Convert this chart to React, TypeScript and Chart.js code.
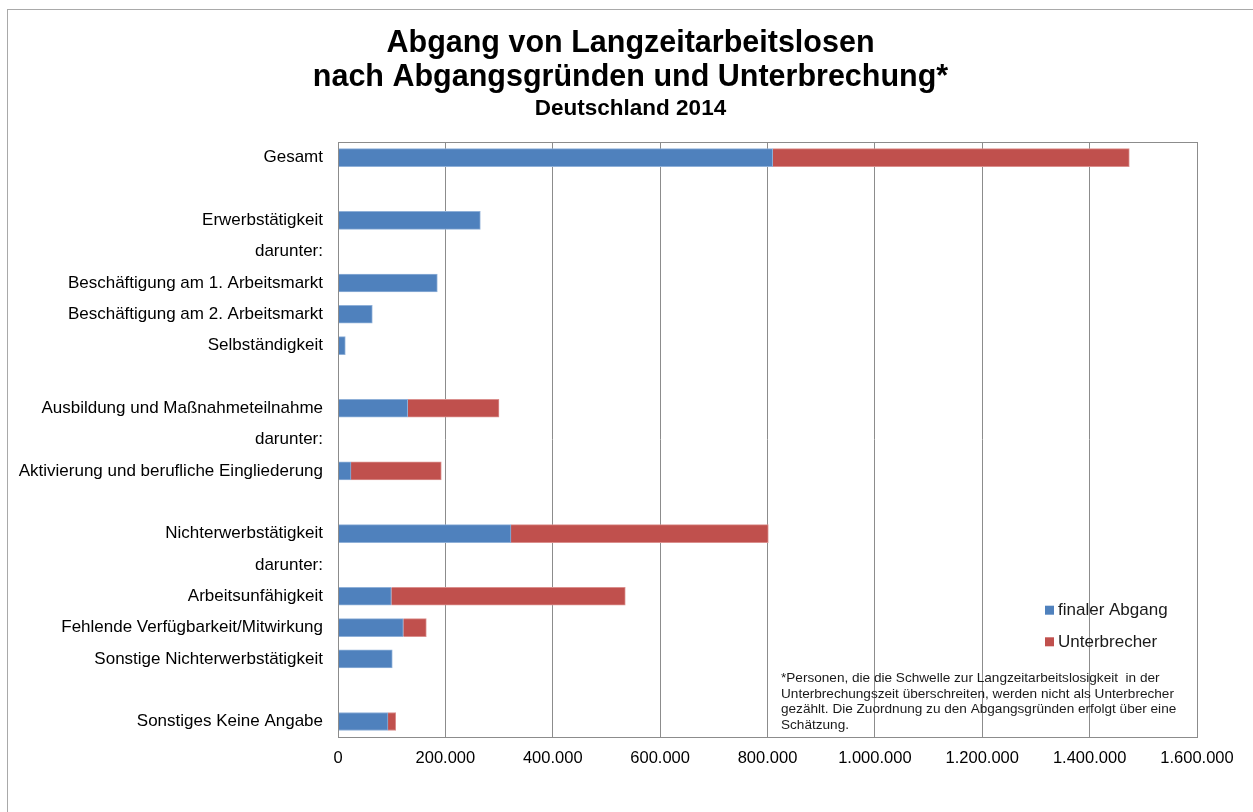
import React, { useEffect, useRef } from "react";
import { Chart, registerables } from "chart.js";

Chart.register(...registerables);

const categories = [
  "Gesamt",
  "",
  "Erwerbstätigkeit",
  "darunter:",
  "Beschäftigung am 1. Arbeitsmarkt",
  "Beschäftigung am 2. Arbeitsmarkt",
  "Selbständigkeit",
  "",
  "Ausbildung und Maßnahmeteilnahme",
  "darunter:",
  "Aktivierung und berufliche Eingliederung",
  "",
  "Nichterwerbstätigkeit",
  "darunter:",
  "Arbeitsunfähigkeit",
  "Fehlende Verfügbarkeit/Mitwirkung",
  "Sonstige Nichterwerbstätigkeit",
  "",
  "Sonstiges Keine Angabe",
];

const finalerAbgang = [
  809700, null, 265100, null, 185000, 63900, 13600, null, 129800, null, 24200,
  null, 322200, null, 99300, 121600, 101100, null, 93100,
];

const unterbrecher = [
  664200, null, null, null, null, null, null, null, 170100, null, 168200,
  null, 479300, null, 435800, 42900, null, null, 14400,
];

const seriesNames = ["finaler Abgang", "Unterbrecher"];
const seriesColors = ["#4F81BD", "#C0504D"];
const seriesBorders = ["#8FB0D8", "#DA8F8D"];

const titleLines = ["Abgang von Langzeitarbeitslosen", "nach Abgangsgründen und Unterbrechung*"];
const subtitleText = "Deutschland 2014";

const footnoteLines = [
  "*Personen, die die Schwelle zur Langzeitarbeitslosigkeit  in der",
  "Unterbrechungszeit überschreiten, werden nicht als Unterbrecher",
  "gezählt. Die Zuordnung zu den Abgangsgründen erfolgt über eine",
  "Schätzung.",
];

const FONT = "'Liberation Sans', Arial, sans-serif";

const fmt = (v: number) => String(v).replace(/\B(?=(\d{3})+(?!\d))/g, ".");

const extrasPlugin = {
  id: "extras",
  afterLayout(chart: any) {
    // center the title blocks over the whole chart frame, not only left of the padding
    (chart.boxes || []).forEach((box: any) => {
      if (box && box.fullSize && box.options && "text" in box.options) {
        box.left = 64;
        box.right = chart.chartArea.right;
      }
    });
  },
  afterDraw(chart: any) {
    const { ctx, chartArea } = chart;
    ctx.save();
    // plot border
    ctx.strokeStyle = "#8c8c8c";
    ctx.lineWidth = 1;
    ctx.strokeRect(
      Math.round(chartArea.left) + 0.5,
      Math.round(chartArea.top) + 0.5,
      Math.round(chartArea.right - chartArea.left),
      Math.round(chartArea.bottom - chartArea.top)
    );
    // legend
    const lx = chartArea.right - 152;
    const ly = chartArea.bottom - 127;
    ctx.font = `17px ${FONT}`;
    ctx.textBaseline = "middle";
    ctx.textAlign = "left";
    seriesNames.forEach((name, i) => {
      const y = ly + i * 31.6;
      ctx.fillStyle = seriesColors[i];
      ctx.fillRect(lx, y - 4.5, 9, 9);
      ctx.fillStyle = "#1a1a1a";
      ctx.fillText(name, lx + 13, y + 0.5);
    });
    // footnote
    ctx.font = `13.6px ${FONT}`;
    ctx.fillStyle = "#1a1a1a";
    const fx = chartArea.left + 443;
    const fy = chartArea.bottom - 59;
    footnoteLines.forEach((line, i) => {
      ctx.fillText(line, fx, fy + i * 15.6);
    });
    ctx.restore();
  },
};

export default function App() {
  const canvasRef = useRef<HTMLCanvasElement | null>(null);

  useEffect(() => {
    document.body.style.margin = "0";
    document.body.style.overflow = "hidden";
    const canvas = canvasRef.current;
    if (!canvas) return;
    const chart = new Chart(canvas, {
      type: "bar",
      data: {
        labels: categories,
        datasets: [
          {
            label: seriesNames[0],
            data: finalerAbgang,
            backgroundColor: seriesColors[0],
            borderColor: seriesBorders[0],
            borderWidth: 1,
            barThickness: 18,
          },
          {
            label: seriesNames[1],
            data: unterbrecher,
            backgroundColor: seriesColors[1],
            borderColor: seriesBorders[1],
            borderWidth: 1,
            barThickness: 18,
          },
        ],
      },
      options: {
        indexAxis: "y",
        animation: false,
        responsive: false,
        maintainAspectRatio: false,
        layout: { padding: { left: 0, right: 56, top: 0, bottom: 33 } },
        plugins: {
          legend: { display: false },
          tooltip: { enabled: false },
          title: {
            display: true,
            text: titleLines,
            color: "#000",
            font: { family: FONT, size: 30.5, weight: "bold", lineHeight: 34 / 30.5 },
            padding: { top: 27, bottom: 0 },
          },
          subtitle: {
            display: true,
            text: subtitleText,
            color: "#000",
            font: { family: FONT, size: 22.5, weight: "bold", lineHeight: 1.2 },
            padding: { top: 0, bottom: 20 },
          },
        },
        scales: {
          x: {
            stacked: true,
            min: 0,
            max: 1600000,
            ticks: {
              stepSize: 200000,
              color: "#000",
              font: { family: FONT, size: 16.5 },
              padding: 11,
              maxRotation: 0,
              callback: (v: any) => fmt(Number(v)),
            },
            grid: { color: "#8c8c8c", lineWidth: 1, drawTicks: false },
            border: { color: "#8c8c8c", width: 1 },
          },
          y: {
            stacked: true,
            ticks: {
              color: "#000",
              font: { family: FONT, size: 17 },
              padding: 15,
              autoSkip: false,
            },
            grid: { display: false, drawTicks: false },
            border: { color: "#8c8c8c", width: 1 },
            afterFit: (scale: any) => {
              scale.width = 338;
            },
          },
        },
      },
      plugins: [extrasPlugin],
    } as any);
    return () => chart.destroy();
  }, []);

  return (
    <div style={{ position: "fixed", left: 0, top: 0, width: 1253, height: 812, overflow: "hidden", background: "#fff" }}>
      <div
        style={{
          position: "absolute",
          left: 7,
          top: 9,
          width: 1270,
          height: 830,
          border: "1px solid #a9a9a9",
          boxSizing: "border-box",
        }}
      />
      <canvas ref={canvasRef} width={1253} height={812} style={{ position: "absolute", left: 0, top: 0, display: "block" }} />
    </div>
  );
}
